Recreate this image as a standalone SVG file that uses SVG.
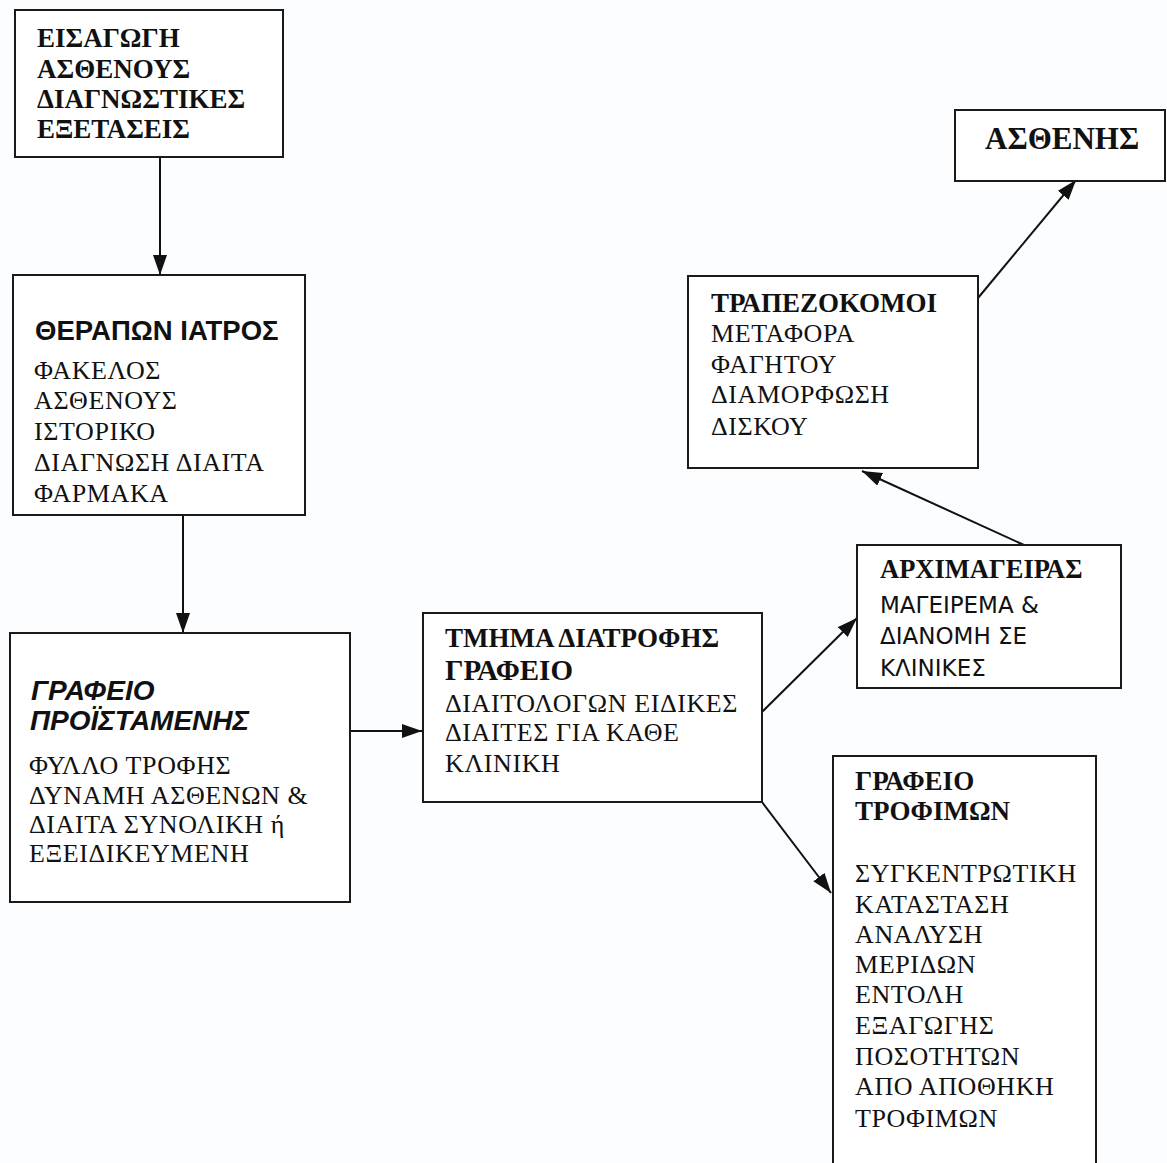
<svg xmlns="http://www.w3.org/2000/svg" width="1167" height="1163" viewBox="0 0 1167 1163">
<style>
.box{fill:#fff;stroke:#1a1a1a;stroke-width:2}
.b{font-family:"Liberation Serif","Times New Roman",serif;font-weight:bold;fill:#111}
.r{font-family:"Liberation Serif","Times New Roman",serif;fill:#111;font-size:26px;letter-spacing:0.6px}
.a{font-family:"Liberation Sans",Arial,sans-serif;font-weight:bold;fill:#111}
.t{font-family:"DejaVu Sans","Liberation Sans",sans-serif;fill:#111;font-size:23px}
.c{stroke:#111;stroke-width:2;fill:none;marker-end:url(#ah)}
</style>
<defs>
<marker id="ah" viewBox="0 0 20 14" refX="20" refY="7" markerWidth="20" markerHeight="14" markerUnits="userSpaceOnUse" orient="auto">
<path d="M0,0 L20,7 L0,14 Z" fill="#111"/>
</marker>
</defs>
<rect width="1167" height="1163" fill="#fcfdfe"/>
<g id="connectors">
<line class="c" x1="160" y1="157" x2="160" y2="275"/>
<line class="c" x1="183" y1="515" x2="183" y2="633"/>
<line class="c" x1="350" y1="731" x2="422" y2="731"/>
<line class="c" x1="762" y1="712" x2="857" y2="618"/>
<line class="c" x1="762" y1="802" x2="831" y2="893"/>
<line class="c" x1="1024" y1="545" x2="862" y2="471"/>
<line class="c" x1="978" y1="298" x2="1076" y2="180"/>
</g>
<g id="eisagogi">
<rect class="box" x="15" y="10" width="268" height="147"/>
<text class="b" font-size="27" x="37"><tspan x="37" y="47">ΕΙΣΑΓΩΓΗ</tspan><tspan x="37" y="78">ΑΣΘΕΝΟΥΣ</tspan><tspan x="37" y="108">ΔΙΑΓΝΩΣΤΙΚΕΣ</tspan><tspan x="37" y="138">ΕΞΕΤΑΣΕΙΣ</tspan></text>
</g>
<g id="therapon">
<rect class="box" x="13" y="275" width="292" height="240"/>
<text class="a" font-size="27.5" x="35" y="340">ΘΕΡΑΠΩΝ ΙΑΤΡΟΣ</text>
<text class="r"><tspan x="34" y="379">ΦΑΚΕΛΟΣ</tspan><tspan x="34" y="409">ΑΣΘΕΝΟΥΣ</tspan><tspan x="34" y="440">ΙΣΤΟΡΙΚΟ</tspan><tspan x="34" y="471">ΔΙΑΓΝΩΣΗ ΔΙΑΙΤΑ</tspan><tspan x="34" y="502">ΦΑΡΜΑΚΑ</tspan></text>
</g>
<g id="proistamenis">
<rect class="box" x="10" y="633" width="340" height="269"/>
<text class="a" font-size="28" font-style="italic"><tspan x="31" y="700">ΓΡΑΦΕΙΟ</tspan><tspan x="30" y="730">ΠΡΟΪΣΤΑΜΕΝΗΣ</tspan></text>
<text class="r"><tspan x="29" y="774">ΦΥΛΛΟ ΤΡΟΦΗΣ</tspan><tspan x="29" y="804">ΔΥΝΑΜΗ ΑΣΘΕΝΩΝ &amp;</tspan><tspan x="29" y="833">ΔΙΑΙΤΑ ΣΥΝΟΛΙΚΗ ή</tspan><tspan x="29" y="862">ΕΞΕΙΔΙΚΕΥΜΕΝΗ</tspan></text>
</g>
<g id="tmima">
<rect class="box" x="423" y="613" width="339" height="189"/>
<text class="b" font-size="27" x="445" y="647">ΤΜΗΜΑ ΔΙΑΤΡΟΦΗΣ</text>
<text class="b" font-size="29" x="445" y="680">ΓΡΑΦΕΙΟ</text>
<text class="r"><tspan x="445" y="712">ΔΙΑΙΤΟΛΟΓΩΝ ΕΙΔΙΚΕΣ</tspan><tspan x="445" y="741">ΔΙΑΙΤΕΣ ΓΙΑ ΚΑΘΕ</tspan><tspan x="445" y="772">ΚΛΙΝΙΚΗ</tspan></text>
</g>
<g id="archimageiras">
<rect class="box" x="857" y="545" width="264" height="143"/>
<text class="b" font-size="26.5" x="880" y="578">ΑΡΧΙΜΑΓΕΙΡΑΣ</text>
<text class="t"><tspan x="880" y="613">ΜΑΓΕΙΡΕΜΑ &amp;</tspan><tspan x="880" y="644">ΔΙΑΝΟΜΗ ΣΕ</tspan><tspan x="880" y="676">ΚΛΙΝΙΚΕΣ</tspan></text>
</g>
<g id="trapezokomoi">
<rect class="box" x="688" y="276" width="290" height="192"/>
<text class="b" font-size="27" x="711" y="312">ΤΡΑΠΕΖΟΚΟΜΟΙ</text>
<text class="r"><tspan x="711" y="342">ΜΕΤΑΦΟΡΑ</tspan><tspan x="711" y="373">ΦΑΓΗΤΟΥ</tspan><tspan x="711" y="403">ΔΙΑΜΟΡΦΩΣΗ</tspan><tspan x="711" y="435">ΔΙΣΚΟΥ</tspan></text>
</g>
<g id="asthenis">
<rect class="box" x="955" y="110" width="210" height="71"/>
<text class="b" font-size="31" x="985" y="149">ΑΣΘΕΝΗΣ</text>
</g>
<g id="trofimon">
<rect class="box" x="833" y="756" width="263" height="420"/>
<text class="b" font-size="27"><tspan x="855" y="790">ΓΡΑΦΕΙΟ</tspan><tspan x="855" y="820">ΤΡΟΦΙΜΩΝ</tspan></text>
<text class="r"><tspan x="855" y="882">ΣΥΓΚΕΝΤΡΩΤΙΚΗ</tspan><tspan x="855" y="913">ΚΑΤΑΣΤΑΣΗ</tspan><tspan x="855" y="943">ΑΝΑΛΥΣΗ</tspan><tspan x="855" y="973">ΜΕΡΙΔΩΝ</tspan><tspan x="855" y="1003">ΕΝΤΟΛΗ</tspan><tspan x="855" y="1034">ΕΞΑΓΩΓΗΣ</tspan><tspan x="855" y="1065">ΠΟΣΟΤΗΤΩΝ</tspan><tspan x="855" y="1095">ΑΠΟ ΑΠΟΘΗΚΗ</tspan><tspan x="855" y="1127">ΤΡΟΦΙΜΩΝ</tspan></text>
</g>
</svg>
